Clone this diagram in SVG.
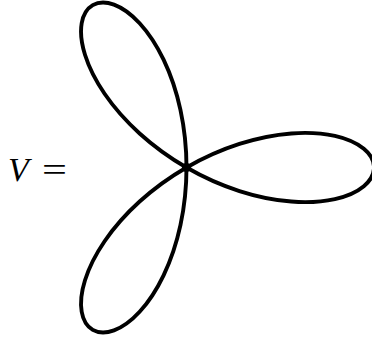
<svg xmlns="http://www.w3.org/2000/svg" width="372" height="343" viewBox="0 0 372 343">
<style>
.petal{fill:none;stroke:#000;stroke-width:3.9;stroke-linecap:round;stroke-linejoin:round}
.lbl{font-family:"Liberation Serif","Times New Roman",serif;fill:#000}
</style>
<defs>
<path id="petal" class="petal" d="M0,0 C17.01,-9.82 35.05,-17.82 52.93,-23.57 C70.81,-29.32 88.52,-32.81 104.82,-34.06 C121.12,-35.31 135.99,-34.32 148.38,-31.54 C160.77,-28.76 170.66,-24.2 177.34,-18.64 C184.03,-13.08 187.5,-6.545 187.5,0 C187.5,6.545 184.03,13.08 177.34,18.64 C170.66,24.2 160.77,28.76 148.38,31.54 C135.99,34.32 121.12,35.31 104.82,34.06 C88.52,32.81 70.81,29.32 52.93,23.57 C35.05,17.82 17.01,9.82 0,0"/>
</defs>
<g id="label">
<text class="lbl" x="8" y="180.5" font-size="34" font-style="italic">V</text>
<text class="lbl" x="0" y="0" font-size="34" transform="translate(42,180.5) scale(1.3,1)">=</text>
</g>
<g id="connectors" transform="translate(186.5,167.5)">
<use href="#petal"/>
<use href="#petal" transform="rotate(-120)"/>
<use href="#petal" transform="rotate(120)"/>
</g>
<g id="vertex">
<circle cx="186.5" cy="167.5" r="4.6" fill="#000"/>
</g>
</svg>
